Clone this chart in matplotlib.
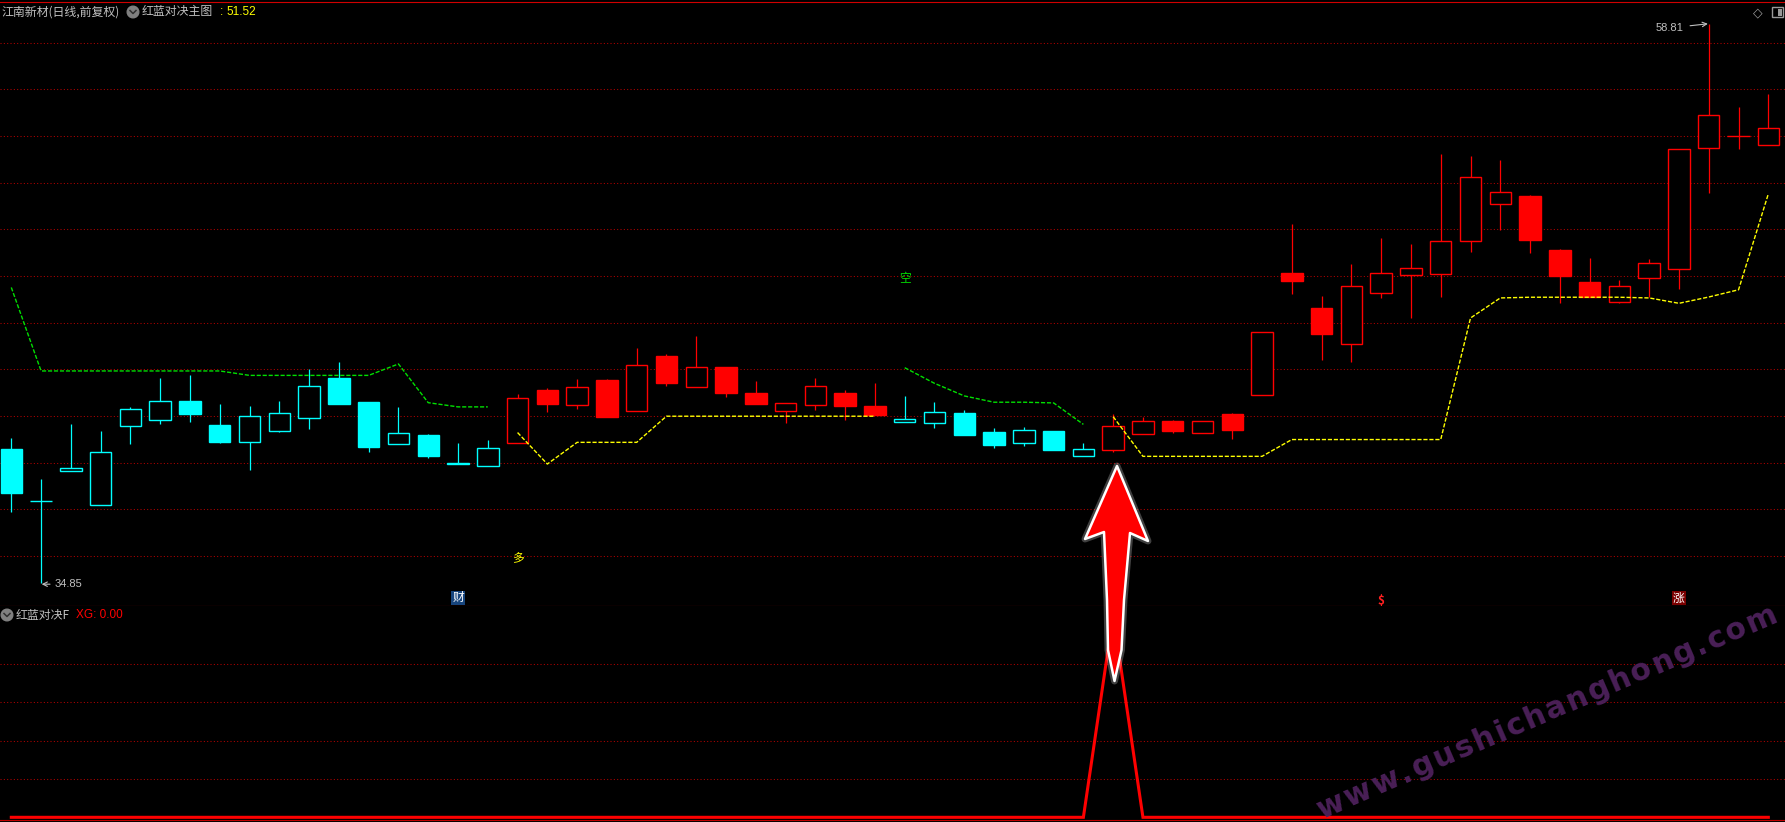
import numpy as np
import matplotlib.pyplot as plt
from matplotlib.patches import Rectangle, Circle, Polygon
import matplotlib.patheffects as pe

plt.rcParams['font.family'] = ['Noto Sans CJK SC', 'DejaVu Sans']

# daily bars, 江南新材 (日线, 前复权)
opens  = [40.59, 38.36, 39.66, 38.20, 41.59, 41.84, 42.63, 41.61, 40.90, 41.37,
          41.93, 43.63, 42.60, 40.79, 41.19, 39.99, 39.84, 40.86, 43.11, 42.49,
          43.54, 42.23, 44.57, 43.23, 44.10, 42.99, 42.20, 42.49, 42.99, 42.43,
          41.73, 41.71, 42.11, 41.30, 40.86, 41.34, 40.29, 40.54, 41.24, 41.80,
          41.29, 42.10, 42.90, 48.11, 46.61, 45.10, 47.27, 48.04, 48.09, 49.51,
          51.10, 51.41, 49.10, 47.73, 46.90, 47.93, 48.31, 53.50, 54.01, 53.61]
highs  = [41.06, 39.30, 41.66, 41.36, 42.39, 43.63, 43.74, 42.51, 42.43, 42.64,
          44.01, 44.31, 42.60, 42.39, 41.23, 40.84, 40.97, 42.94, 43.20, 43.59,
          43.59, 44.91, 44.66, 45.43, 44.10, 43.50, 42.54, 43.63, 43.11, 43.41,
          42.86, 42.60, 42.26, 41.49, 41.53, 41.34, 40.84, 42.10, 41.97, 41.84,
          41.80, 42.14, 45.61, 50.21, 47.13, 48.50, 49.61, 49.36, 53.21, 53.16,
          52.96, 51.46, 49.14, 48.76, 47.81, 48.71, 53.46, 58.81, 55.23, 55.79]
lows   = [37.90, 34.85, 39.66, 38.20, 40.81, 41.67, 41.76, 40.86, 39.70, 41.33,
          41.44, 42.53, 40.47, 40.79, 40.21, 39.93, 39.84, 40.86, 42.19, 42.31,
          41.97, 42.23, 43.30, 43.23, 42.83, 42.53, 41.71, 42.27, 41.84, 42.03,
          41.73, 41.50, 41.20, 40.64, 40.73, 40.56, 40.29, 40.46, 41.24, 41.27,
          41.29, 41.01, 42.90, 47.23, 44.40, 44.31, 47.06, 46.20, 47.10, 49.03,
          49.99, 48.99, 46.84, 47.10, 46.84, 47.10, 47.44, 51.56, 53.44, 53.61]
closes = [38.71, 38.36, 39.76, 40.44, 42.29, 42.63, 42.10, 40.90, 42.00, 42.11,
          43.27, 42.53, 40.69, 41.26, 40.30, 39.93, 40.61, 42.77, 42.53, 43.23,
          41.97, 44.17, 43.43, 44.09, 43.00, 42.53, 42.54, 43.27, 42.44, 42.03,
          41.86, 42.16, 41.20, 40.77, 41.39, 40.56, 40.58, 41.59, 41.80, 41.36,
          41.80, 41.40, 45.61, 47.79, 45.51, 47.56, 48.14, 48.36, 49.51, 52.26,
          51.61, 49.54, 47.99, 47.10, 47.59, 48.57, 53.46, 54.91, 54.01, 54.36]

nan = np.nan
# 红蓝对决主图: green (空) stop line above price, yellow (多) support line below
green_line  = [47.51, 43.93, 43.93, 43.93, 43.93, 43.93, 43.93, 43.93, 43.74, 43.74,
               43.74, 43.74, 43.74, 44.23, 42.57, 42.39, 42.39, nan, nan, nan,
               nan, nan, nan, nan, nan, nan, nan, nan, nan, nan,
               44.07, 43.40, 42.86, 42.59, 42.59, 42.56, 41.64, nan, nan, nan,
               nan, nan, nan, nan, nan, nan, nan, nan, nan, nan,
               nan, nan, nan, nan, nan, nan, nan, nan, nan, nan]
yellow_line = [nan, nan, nan, nan, nan, nan, nan, nan, nan, nan,
               nan, nan, nan, nan, nan, nan, nan, 41.29, 39.94, 40.87,
               40.87, 40.87, 41.99, 41.99, 41.99, 41.99, 41.99, 41.99, 41.99, 41.99,
               nan, nan, nan, nan, nan, nan, nan, 41.97, 40.27, 40.27,
               40.27, 40.27, 40.27, 40.99, 40.99, 40.99, 40.99, 40.99, 40.99, 46.20,
               47.06, 47.09, 47.09, 47.09, 47.09, 47.06, 46.83, 47.10, 47.41, 51.52]

# 红蓝对决F: XG signal
xg = [0] * 37 + [1] + [0] * 22

# signal labels on the main chart
sig_text  = ['财', '多', '空', '$', '涨']
sig_idx   = [15, 17, 30, 46, 56]
sig_price = [34.20, 35.87, 47.87, 34.11, 34.20]
sig_color = ['white', '#ffff00', '#00e000', '#ff2020', 'white']
sig_bg    = ['#17457d', None, None, None, '#7a0000']

RED = '#ff0000'
CYAN = '#00ffff'
GRID = '#b40000'
GRAY = '#c0c0c0'

n = len(opens)
idx = np.arange(n)
W, H = 1785.0, 822.0

fig = plt.figure(figsize=(17.85, 8.22), dpi=100, facecolor='black')
ax = fig.add_axes([0, (H - 606) / H, 1, 604 / H], facecolor='black')
ax2 = fig.add_axes([0, 2 / H, 1, 214 / H], facecolor='black')
ov = fig.add_axes([0, 0, 1, 1], zorder=10)
ov.set_xlim(0, W)
ov.set_ylim(H, 0)
ov.axis('off')
ov.patch.set_alpha(0)

for a in (ax, ax2):
    a.set_xlim(-0.3795, 59.56)
    a.set_xticks([])
    a.tick_params(length=0, labelleft=False)
    for s in a.spines.values():
        s.set_visible(False)

# ---------------- main chart
ax.set_ylim(33.855, 59.745)
ax.set_yticks(np.arange(36, 59, 2))
ax.grid(axis='y', color=GRID, ls=(0, (1, 2.2)), lw=0.75)
ax.spines['top'].set_visible(True)
ax.spines['top'].set_color('#d00000')
ax.spines['bottom'].set_visible(True)
ax.spines['bottom'].set_color('#c00000')

for i in range(n):
    col = RED if not np.isnan(yellow_line[i]) else CYAN
    o, h, l, c = opens[i], highs[i], lows[i], closes[i]
    top, bot = max(o, c), min(o, c)
    ax.vlines(i, top, h, color=col, lw=0.9)
    ax.vlines(i, l, bot, color=col, lw=0.9)
    if c == o:
        ax.hlines(o, i - 0.38, i + 0.38, color=col, lw=1.0)
    else:
        filled = c < o
        ax.add_patch(Rectangle((i - 0.36, bot), 0.72, top - bot,
                               fc=col if filled else 'black', ec=col, lw=1.0, zorder=3))

ax.plot(idx, green_line, color='#00e000', lw=1.0, ls=(0, (3, 1.3)), zorder=4)
ax.plot(idx, yellow_line, color='#ffff00', lw=1.0, ls=(0, (3, 1.3)), zorder=4)

for t, i, p, c, bg in zip(sig_text, sig_idx, sig_price, sig_color, sig_bg):
    kw = {}
    if bg:
        kw['bbox'] = dict(boxstyle='square,pad=0.08', fc=bg, ec='none')
    ax.text(i, p, t, color=c, fontsize=8.5, ha='center', va='center',
            fontweight='bold' if t == '$' else 'normal', **kw)

hi_i = int(np.argmax(highs))
lo_i = int(np.argmin(lows))
ax.annotate(f'{highs[hi_i]:.2f}', xy=(hi_i - 0.03, highs[hi_i]),
            xytext=(hi_i - 0.86, highs[hi_i] - 0.18), ha='right', va='center',
            color=GRAY, fontsize=8, family='Liberation Sans',
            arrowprops=dict(arrowstyle='->', color=GRAY, lw=0.8, shrinkA=3, shrinkB=0))
ax.annotate(f'{lows[lo_i]:.2f}', xy=(lo_i + 0.02, lows[lo_i] - 0.06),
            xytext=(lo_i + 0.44, lows[lo_i] - 0.06), ha='left', va='center',
            color=GRAY, fontsize=8, family='Liberation Sans',
            arrowprops=dict(arrowstyle='->', color=GRAY, lw=0.8, shrinkA=1, shrinkB=0))

# ---------------- XG sub chart
ax2.set_ylim(-0.0133, 1.0445)
ax2.set_yticks([0.188, 0.376, 0.568, 0.756])
ax2.grid(axis='y', color=GRID, ls=(0, (1, 2.2)), lw=0.75)
ax2.spines['bottom'].set_visible(True)
ax2.spines['bottom'].set_color('#c00000')
ax2.plot(idx, xg, color=RED, lw=2.2, solid_joinstyle='miter')

# ---------------- headers and decorations
ov.text(2, 12, '江南新材(日线,前复权)', color=GRAY, fontsize=8.6, va='center')
ov.text(142, 12, '红蓝对决主图', color=GRAY, fontsize=8.6, va='center')
ov.text(220, 12, ':', color='#ffff00', fontsize=8.5, va='center', family='Liberation Sans')
ov.text(226.5, 12, '51.52', color='#ffff00', fontsize=8.5, va='center', family='Liberation Sans')
ov.text(16, 615, '红蓝对决F', color=GRAY, fontsize=8.6, va='center')
ov.text(76.5, 615, 'XG: 0.00', color=RED, fontsize=8.5, va='center', family='Liberation Sans')
for cx, cy in [(133, 12), (7, 615)]:
    ov.add_patch(Circle((cx, cy), 5.8, color='#808080'))
    ov.plot([cx - 3, cx, cx + 3], [cy - 1.5, cy + 1.5, cy - 1.5], color='#303030', lw=1.1)

ov.text(1758, 13, '◇', color='#9a9a9a', fontsize=9, ha='center', va='center', family='DejaVu Sans')
ov.add_patch(Rectangle((1772, 7.5), 10.5, 10, fc='none', ec='#9a9a9a', lw=1.0))
ov.add_patch(Rectangle((1778, 9), 3.5, 7, fc='#9a9a9a', ec='none'))

# big red arrow pointing at the XG signal bar
arrow = Polygon([(1117, 466), (1148, 541), (1130, 533), (1124, 600), (1121.5, 650),
                 (1114.5, 681), (1108, 650), (1107, 600), (1104, 532), (1085, 539)],
                closed=True, fc=RED, ec='white', lw=1.8, joinstyle='round')
arrow.set_path_effects([pe.withStroke(linewidth=5, foreground='white', alpha=0.25)])
ov.add_patch(arrow)

# watermark, letters spread along a slanted baseline
wm = 'www.gushichanghong.com'
adv = {'w': 0.924, '.': 0.380, 'g': 0.716, 'u': 0.712, 's': 0.595, 'h': 0.712,
       'i': 0.343, 'c': 0.593, 'a': 0.675, 'n': 0.712, 'o': 0.687, 'm': 1.042}
wm_size = 21.5
em = wm_size * 100 / 72
span = 498.0
track = (span - sum(adv[ch] for ch in wm) * em) / (len(wm) - 1)
ang = np.deg2rad(23.4)
x0, y0 = 1322, 818.5
pos = 0.0
for ch in wm:
    ov.text(x0 + pos * np.cos(ang), y0 - pos * np.sin(ang), ch,
            color='#4e215c', fontsize=wm_size, fontweight='bold', family='DejaVu Sans',
            rotation=23.4, rotation_mode='anchor', ha='left', va='baseline', alpha=0.95)
    pos += adv[ch] * em + track

fig.savefig('out.png', dpi=100, facecolor='black')
